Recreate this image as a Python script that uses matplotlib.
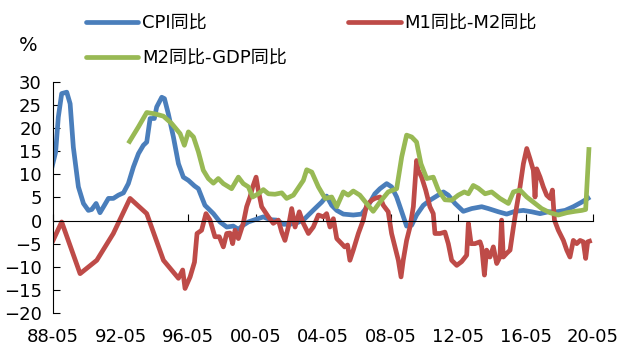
import numpy as np
import matplotlib.pyplot as plt

plt.rcParams['font.family'] = ['DejaVu Sans', 'Noto Sans CJK SC']

# values (x in decimal years)
cpi_t = [1988.33, 1988.57, 1988.73, 1988.93, 1989.23, 1989.43, 1989.62, 1989.92, 1990.22, 1990.51,
         1990.71, 1990.97, 1991.20, 1991.46, 1991.70, 1991.99, 1992.29, 1992.59, 1992.88, 1993.18,
         1993.48, 1993.77, 1993.97, 1994.17, 1994.42, 1994.56, 1994.86, 1995.02, 1995.25, 1995.55,
         1995.85, 1996.14, 1996.44, 1996.80, 1997.03, 1997.42, 1997.92, 1998.31, 1998.71, 1999.10,
         1999.40, 1999.69, 1999.99, 2000.39, 2000.88, 2001.28, 2001.67, 2002.07, 2002.46, 2002.86,
         2003.25, 2003.55, 2003.94, 2004.34, 2004.63, 2004.93, 2005.23, 2005.62, 2006.21, 2006.70,
         2007.10, 2007.49, 2007.79, 2008.19, 2008.48, 2008.78, 2009.08, 2009.37, 2009.67, 2009.96,
         2010.36, 2010.75, 2011.15, 2011.55, 2011.84, 2012.24, 2012.73, 2013.23, 2013.82, 2014.21,
         2014.81, 2015.30, 2015.79, 2016.29, 2016.78, 2017.28, 2017.77, 2018.26, 2018.76, 2019.25,
         2019.75, 2020.24]
cpi_v = [11.2, 14.8, 22.4, 27.5, 27.8, 25.3, 15.9, 7.3, 3.7, 2.2,
         2.4, 3.7, 1.7, 3.3, 4.8, 4.8, 5.5, 6.0, 8.0, 11.6,
         14.5, 16.3, 17.0, 22.1, 22.1, 24.6, 26.7, 26.4, 23.1, 18.1,
         12.3, 9.4, 8.7, 7.5, 6.9, 3.3, 1.5, -0.3, -1.4, -1.2,
         -1.9, -1.0, -0.3, 0.2, 0.8, 0.2, 0.1, -0.8, -0.8, -0.5,
         0.1, 1.2, 2.6, 4.0, 5.3, 3.3, 2.2, 1.4, 1.2, 1.4,
         3.3, 5.8, 6.9, 8.0, 7.3, 5.1, 1.9, -1.2, -1.0, 1.2,
         3.3, 4.4, 5.3, 6.2, 5.5, 3.7, 2.0, 2.6, 3.0, 2.6,
         1.9, 1.4, 2.0, 2.2, 1.9, 1.5, 1.9, 1.9, 2.2, 3.0,
         4.0, 5.1]

m1m2_t = [1988.33, 1988.93, 1990.02, 1991.01, 1991.99, 1992.98, 1993.97, 1994.96, 1995.85, 1996.10,
          1996.24, 1996.54, 1996.80, 1996.95, 1997.22, 1997.48, 1997.72, 1998.01, 1998.27, 1998.51,
          1998.71, 1998.90, 1999.06, 1999.20, 1999.40, 1999.69, 1999.89, 2000.09, 2000.25, 2000.45,
          2000.58, 2000.78, 2000.98, 2001.18, 2001.47, 2001.77, 2001.97, 2002.16, 2002.36, 2002.56,
          2002.76, 2003.01, 2003.25, 2003.55, 2003.84, 2004.14, 2004.44, 2004.63, 2004.83, 2005.03,
          2005.23, 2005.52, 2005.70, 2005.87, 2006.01, 2006.21, 2006.51, 2006.80, 2007.00, 2007.30,
          2007.49, 2007.79, 2007.99, 2008.28, 2008.48, 2008.68, 2008.88, 2009.04, 2009.17, 2009.37,
          2009.57, 2009.77, 2009.96, 2010.06, 2010.26, 2010.50, 2010.75, 2010.95, 2011.05, 2011.35,
          2011.64, 2011.84, 2012.04, 2012.34, 2012.63, 2012.93, 2013.03, 2013.19, 2013.42, 2013.72,
          2013.82, 2013.98, 2014.11, 2014.31, 2014.51, 2014.71, 2014.90, 2015.00, 2015.10, 2015.30,
          2015.50, 2015.70, 2015.89, 2016.09, 2016.29, 2016.49, 2016.68, 2016.88, 2016.98, 2017.08,
          2017.28, 2017.47, 2017.67, 2017.87, 2018.01, 2018.13, 2018.36, 2018.66, 2018.86, 2019.05,
          2019.25, 2019.45, 2019.65, 2019.84, 2019.98, 2020.10, 2020.34]
m1m2_v = [-5.0, -0.3, -11.5, -8.6, -2.8, 4.8, 1.5, -8.6, -12.5, -10.7,
          -14.7, -12.2, -9.0, -2.8, -2.1, 1.5, 0.1, -3.5, -3.5, -5.7,
          -2.8, -2.7, -5.0, -2.1, -3.9, -0.6, 3.0, 5.1, 7.3, 9.4,
          6.6, 3.0, 1.9, 0.8, -0.6, 0.1, -2.5, -4.3, -1.4, 2.6,
          -1.4, 1.9, -0.6, -2.8, -1.4, 1.2, 0.8, 1.5, -1.4, 0.4,
          -3.9, -5.0, -5.7, -5.3, -8.6, -6.4, -2.8, 0.1, 3.3, 4.4,
          4.8, 5.1, 3.3, 1.9, -2.8, -5.7, -8.6, -12.2, -8.6, -4.3,
          -1.4, 3.0, 13.0, 10.9, 9.4, 6.6, 3.0, 1.5, -2.8, -2.8,
          -2.5, -5.0, -8.6, -9.7, -8.9, -7.5, -0.6, -5.0, -5.0, -4.6,
          -5.7, -11.8, -6.4, -7.9, -5.7, -9.3, -7.9, 0.1, -7.9, -7.1,
          -6.4, -1.4, 3.0, 7.3, 12.3, 15.6, 13.4, 10.9, 5.1, 11.2,
          9.4, 7.3, 5.5, 4.8, 6.6, 0.1, -2.1, -4.3, -6.4, -7.9,
          -4.3, -5.0, -4.3, -4.6, -8.2, -4.6, -4.3]

m2gdp_t = [1992.88, 1993.48, 1993.97, 1994.46, 1994.96, 1995.45, 1995.95, 1996.20, 1996.44, 1996.74,
           1997.03, 1997.32, 1997.62, 1997.92, 1998.21, 1998.51, 1999.00, 1999.40, 1999.69, 1999.99,
           2000.25, 2000.58, 2000.88, 2001.18, 2001.57, 2001.97, 2002.26, 2002.66, 2003.01, 2003.25,
           2003.45, 2003.75, 2004.14, 2004.54, 2004.93, 2005.23, 2005.62, 2005.91, 2006.21, 2006.60,
           2007.00, 2007.39, 2007.79, 2008.28, 2008.78, 2009.08, 2009.37, 2009.67, 2009.96, 2010.22,
           2010.56, 2010.95, 2011.25, 2011.64, 2012.04, 2012.43, 2012.79, 2013.03, 2013.32, 2013.62,
           2014.02, 2014.41, 2014.90, 2015.40, 2015.70, 2016.09, 2016.49, 2016.88, 2017.37, 2017.87,
           2018.36, 2018.86, 2019.35, 2019.75, 2019.98, 2020.18]
m2gdp_v = [16.7, 20.3, 23.4, 23.1, 22.6, 21.0, 18.8, 16.3, 19.2, 18.1,
           14.9, 10.9, 9.1, 8.1, 9.1, 8.0, 6.9, 9.4, 8.0, 7.3,
           5.1, 5.8, 6.7, 5.8, 5.7, 6.0, 4.8, 5.5, 7.4, 8.7,
           11.0, 10.5, 7.3, 4.8, 5.1, 3.0, 6.2, 5.5, 6.4, 5.5,
           3.7, 2.0, 4.0, 6.2, 6.9, 13.8, 18.5, 18.1, 17.0, 12.3,
           9.1, 9.4, 6.6, 4.5, 4.4, 5.5, 6.2, 5.8, 7.6, 7.0,
           5.8, 6.2, 4.8, 3.7, 6.2, 6.6, 5.1, 4.0, 2.6, 1.7,
           1.2, 1.7, 2.0, 2.2, 2.4, 15.9]

tick_years = np.arange(1988 + 5 / 12, 2021, 4)
tick_labels = ['88-05', '92-05', '96-05', '00-05', '04-05', '08-05', '12-05', '16-05', '20-05']

fig = plt.figure(figsize=(6.29, 3.52), dpi=100)
ax = fig.add_axes([0.0843, 0.111, 0.8585, 0.656])

ax.plot(cpi_t, cpi_v, color='#4A7EBB', lw=3.4, label='CPI同比', solid_capstyle='butt')
ax.plot(m1m2_t, m1m2_v, color='#BE4B48', lw=3.4, label='M1同比-M2同比', solid_capstyle='butt')
ax.plot(m2gdp_t, m2gdp_v, color='#98B954', lw=3.4, label='M2同比-GDP同比', solid_capstyle='butt')

ax.set_xlim(tick_years[0], tick_years[-1])
ax.set_ylim(-20, 30)
ax.set_yticks(range(-20, 31, 5))
for s in ['top', 'right']:
    ax.spines[s].set_visible(False)
ax.spines['bottom'].set_position(('data', 0))
ax.spines['left'].set_linewidth(0.8)
ax.spines['bottom'].set_linewidth(0.8)
ax.set_xticks(tick_years)
ax.tick_params(axis='x', direction='in', length=5, width=0.8, labelbottom=False)
ax.tick_params(axis='y', direction='in', length=5, width=0.8, labelsize=13, pad=8)

sec = ax.secondary_xaxis(0)
sec.set_xticks(tick_years, tick_labels)
for s in sec.spines.values():
    s.set_visible(False)
sec.tick_params(length=0, pad=11, labelsize=13)

h, l = ax.get_legend_handles_labels()
leg = fig.legend([h[0], h[2], h[1]], [l[0], l[2], l[1]], ncol=2, loc='upper left',
                 bbox_to_anchor=(0.111, 1.005), frameon=False, fontsize=13,
                 handlelength=2.9, handletextpad=0.2, columnspacing=3.4, labelspacing=0.95)
for line in leg.get_lines():
    line.set_solid_capstyle('round')

fig.text(0.045, 0.87, '%', fontsize=14, ha='center', va='center')

fig.savefig('out.png', dpi=100)
